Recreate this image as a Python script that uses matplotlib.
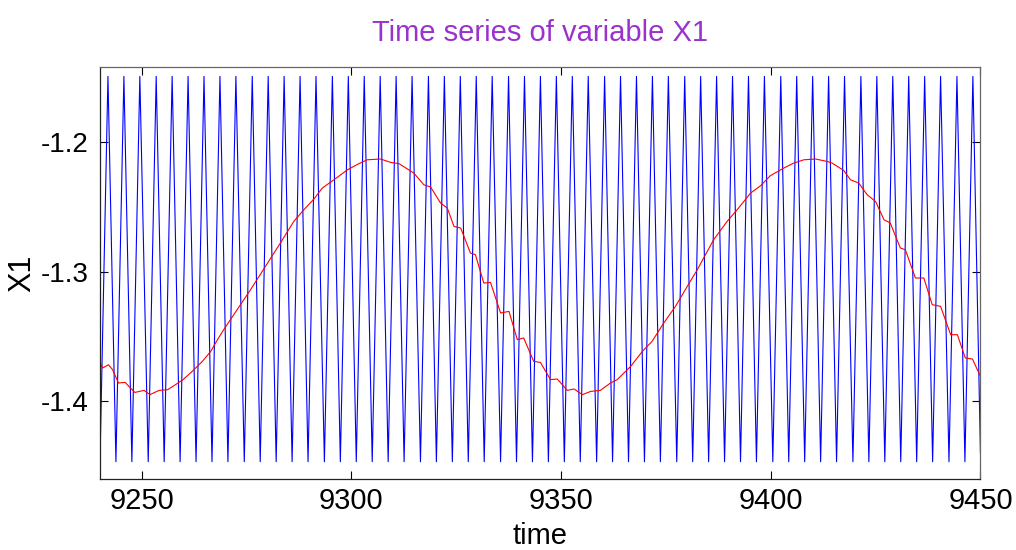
"""Time series of variable X1: fast oscillation (blue) and slow trend (red)."""

import matplotlib
matplotlib.use("Agg")
import matplotlib.pyplot as plt

# blue series: times of its crests and troughs
blue_peak_t = [9242.0, 9245.8, 9249.6, 9253.5, 9257.3, 9261.1, 9264.9, 9268.7, 9272.5, 9276.4,
               9280.2, 9284.0, 9287.8, 9291.6, 9295.5, 9299.3, 9303.1, 9306.9, 9310.7, 9314.5,
               9318.4, 9322.2, 9326.0, 9329.8, 9333.6, 9337.5, 9341.3, 9345.1, 9348.9, 9352.7,
               9356.5, 9360.4, 9364.2, 9368.0, 9371.8, 9375.6, 9379.5, 9383.3, 9387.1, 9390.9,
               9394.7, 9398.5, 9402.4, 9406.2, 9410.0, 9413.8, 9417.6, 9421.5, 9425.3, 9429.1,
               9432.9, 9436.7, 9440.5, 9444.4, 9448.2]
blue_trough_t = [9240.1, 9243.9, 9247.7, 9251.6, 9255.4, 9259.2, 9263.0, 9266.8, 9270.6, 9274.5,
                 9278.3, 9282.1, 9285.9, 9289.7, 9293.6, 9297.4, 9301.2, 9305.0, 9308.8, 9312.6,
                 9316.5, 9320.3, 9324.1, 9327.9, 9331.7, 9335.6, 9339.4, 9343.2, 9347.0, 9350.8,
                 9354.6, 9358.5, 9362.3, 9366.1, 9369.9, 9373.7, 9377.6, 9381.4, 9385.2, 9389.0,
                 9392.8, 9396.6, 9400.5, 9404.3, 9408.1, 9411.9, 9415.7, 9419.6, 9423.4, 9427.2,
                 9431.0, 9434.8, 9438.6, 9442.5, 9446.3]
blue_peak_v = -1.149
blue_trough_v = -1.4466
blue_end_t = 9450.0
blue_end_v = -1.44

# red series: slow component with small ripples
red_t = [9240.0, 9240.8, 9242.1, 9243.1, 9244.5, 9246.1, 9247.0, 9248.4, 9250.6, 9252.0,
         9254.2, 9256.2, 9258.1, 9259.9, 9262.1, 9264.5, 9266.5, 9268.1, 9269.6, 9276.0,
         9283.2, 9286.3, 9288.7, 9291.1, 9293.1, 9295.9, 9299.1, 9301.8, 9303.8, 9307.0,
         9309.4, 9311.4, 9313.4, 9314.9, 9317.3, 9318.9, 9321.3, 9322.9, 9324.5, 9326.1,
         9328.4, 9329.6, 9331.6, 9333.2, 9335.6, 9337.6, 9339.6, 9341.1, 9343.5, 9345.1,
         9347.5, 9349.1, 9351.5, 9353.1, 9355.1, 9357.1, 9359.4, 9361.8, 9363.4, 9366.6,
         9369.4, 9371.7, 9374.5, 9377.3, 9380.1, 9382.5, 9386.4, 9389.6, 9392.0, 9395.2,
         9397.6, 9399.9, 9403.1, 9405.5, 9407.9, 9410.7, 9413.5, 9414.6, 9417.4, 9419.0,
         9421.0, 9423.0, 9425.0, 9427.0, 9428.5, 9430.9, 9432.1, 9434.5, 9436.5, 9438.5,
         9440.5, 9442.9, 9444.5, 9446.4, 9448.1, 9450.0]
red_v = [-1.3691, -1.3742, -1.3717, -1.3755, -1.3858, -1.3853, -1.3884, -1.3931, -1.3915, -1.3948,
         -1.3915, -1.3910, -1.3871, -1.3832, -1.3768, -1.3691, -1.3614, -1.3524, -1.3446, -1.3137,
         -1.2772, -1.2610, -1.2520, -1.2437, -1.2352, -1.2288, -1.2211, -1.2164, -1.2134, -1.2128,
         -1.2154, -1.2164, -1.2205, -1.2236, -1.2327, -1.2344, -1.2468, -1.2507, -1.2649, -1.2661,
         -1.2854, -1.2867, -1.3086, -1.3081, -1.3317, -1.3305, -1.3524, -1.3510, -1.3691, -1.3699,
         -1.3832, -1.3827, -1.3915, -1.3904, -1.3948, -1.3923, -1.3915, -1.3858, -1.3832, -1.3730,
         -1.3614, -1.3537, -1.3395, -1.3266, -1.3112, -1.2983, -1.2751, -1.2610, -1.2520, -1.2391,
         -1.2334, -1.2257, -1.2198, -1.2159, -1.2134, -1.2128, -1.2147, -1.2159, -1.2216, -1.2288,
         -1.2314, -1.2404, -1.2456, -1.2597, -1.2622, -1.2815, -1.2829, -1.3047, -1.3047, -1.3253,
         -1.3266, -1.3485, -1.3485, -1.3665, -1.3673, -1.3807]

x_ticks = [9250, 9300, 9350, 9400, 9450]
y_ticks = [-1.4, -1.3, -1.2]

# crests and troughs alternate, starting with a trough
blue_t, blue_v = [], []
for tr, pk in zip(blue_trough_t, blue_peak_t):
    blue_t += [tr, pk]
    blue_v += [blue_trough_v, blue_peak_v]
blue_t.append(blue_end_t)
blue_v.append(blue_end_v)

plt.rcParams["font.family"] = ["Liberation Sans", "DejaVu Sans"]
plt.rcParams["axes.unicode_minus"] = False

fig = plt.figure(figsize=(10.16, 5.5), dpi=100)
ax = fig.add_axes([0.098, 0.129, 0.867, 0.749])
ax.plot(blue_t, blue_v, color="#0000ff", lw=0.8)
ax.plot(red_t, red_v, color="#ff0000", lw=0.8)

ax.set_xlim(9240, 9450)
ax.set_ylim(-1.46, -1.1418)
ax.set_xticks(x_ticks)
ax.set_yticks(y_ticks)
ax.tick_params(direction="in", length=6, width=0.8, top=True, right=True)
ax.tick_params(axis="x", pad=6, labelsize=21)
ax.tick_params(axis="y", pad=8, labelsize=20)
for sp in ax.spines.values():
    sp.set_linewidth(0.9)
    sp.set_color("#222222")
ax.spines["top"].set_color("#666666")
ax.spines["right"].set_color("#666666")

ax.set_xlabel("time", fontsize=21, labelpad=5)
ax.set_ylabel("X1", fontsize=22, labelpad=2)
ax.set_title("Time series of variable X1", fontsize=21, color="#9a32cd", pad=19)

fig.savefig("out.png", dpi=100)
